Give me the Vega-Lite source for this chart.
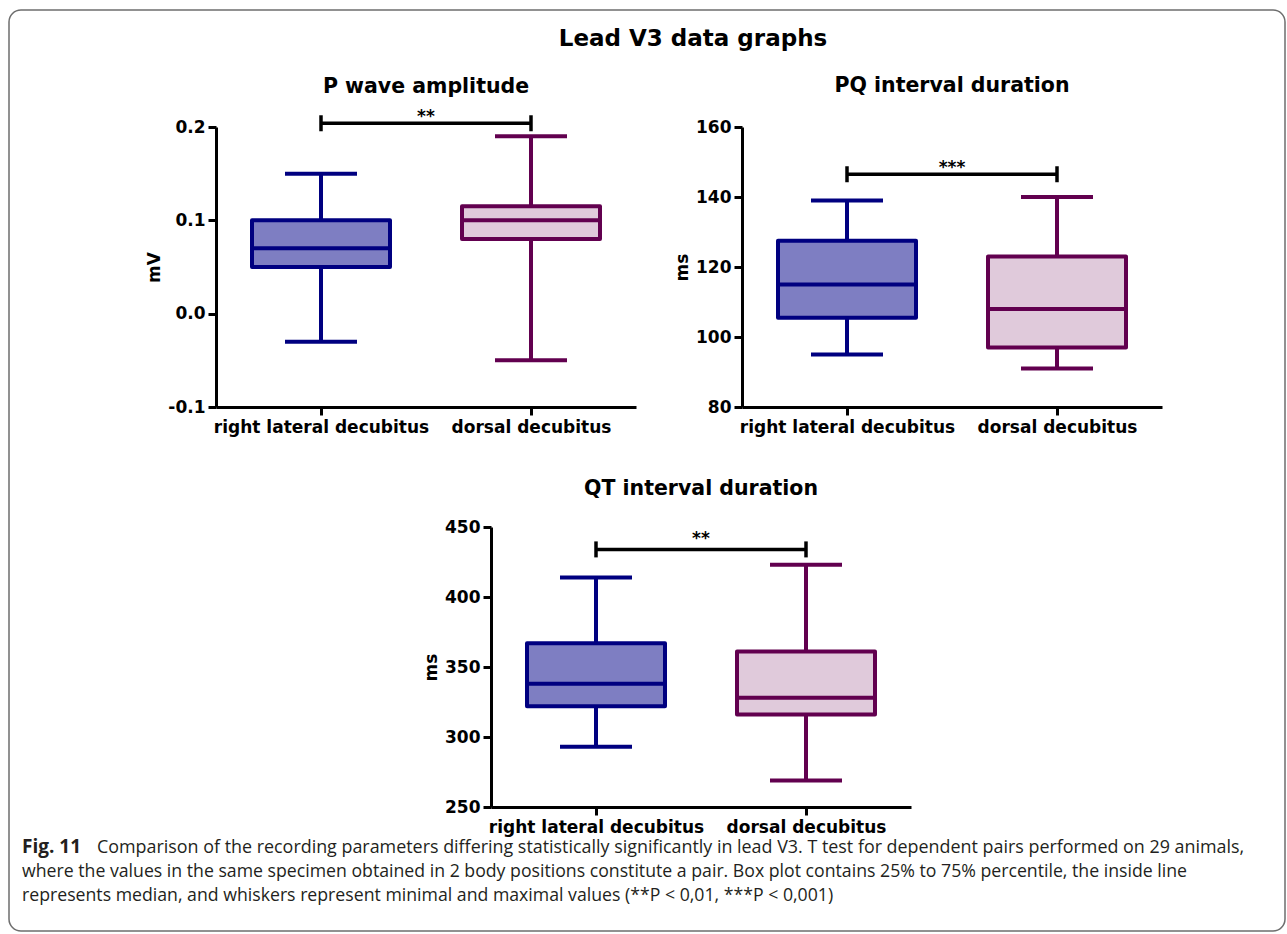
{
  "$schema": "https://vega.github.io/schema/vega-lite/v6.json",
  "background": "white",
  "padding": {"left": 8, "top": 9, "right": 0, "bottom": 0},
  "title": {"text": "Lead V3 data graphs", "fontSize": 23, "offset": -42, "dx": 46},
  "bounds": "flush",
  "spacing": 400,
  "config": {
    "view": {"stroke": null},
    "axis": {
      "grid": false,
      "domainColor": "black", "domainWidth": 3,
      "tickColor": "black", "tickWidth": 3, "tickSize": 8,
      "labelFont": "DejaVu Sans", "labelFontWeight": "bold", "labelFontSize": 17, "labelColor": "black", "labelPadding": 3, "labelLimit": 0,
      "titleFont": "DejaVu Sans", "titleFontWeight": "bold", "titleFontSize": 17, "titleColor": "black", "titlePadding": 4
    },
    "axisX": {"labelAngle": 0, "labelPadding": 4, "title": null},
    "tick": {"opacity": 1},
    "title": {"font": "DejaVu Sans", "fontWeight": "bold", "fontSize": 20.5, "color": "black", "anchor": "middle", "baseline": "alphabetic"}
  },
  "vconcat": [
    {
      "bounds": "flush",
      "spacing": 106,
      "hconcat": [
        {
          "width": 101,
          "height": 280,
          "layer": [
            {
              "data": {"values": [{"frame": "figure border"}]},
              "mark": {"type": "rect", "fill": null, "stroke": "#6e6e6e", "strokeWidth": 1.5, "cornerRadius": 12, "clip": false},
              "encoding": {
                "x": {"value": 0},
                "x2": {"value": 1276},
                "y": {"value": -117},
                "y2": {"value": 804}
              }
            },
            {
              "data": {"values": [{"line": 1, "text": "Fig. 11"}]},
              "mark": {"type": "text", "font": "Open Sans", "fontWeight": "bold", "fontSize": 19, "align": "left", "baseline": "alphabetic", "color": "#231f20"},
              "encoding": {
                "x": {"value": 13},
                "y": {"field": "line", "type": "quantitative", "scale": {"domain": [1, 3], "range": [726, 774]}, "axis": null},
                "text": {"field": "text"}
              }
            },
            {
              "data": {"values": [{"line": 1, "text": "Comparison of the recording parameters differing statistically significantly in lead V3. T test for dependent pairs performed on 29 animals,"}]},
              "mark": {"type": "text", "font": "Open Sans", "fontSize": 17.9, "align": "left", "baseline": "alphabetic", "color": "#231f20", "dx": 75},
              "encoding": {
                "x": {"value": 13},
                "y": {"field": "line", "type": "quantitative", "scale": {"domain": [1, 3], "range": [726, 774]}, "axis": null},
                "text": {"field": "text"}
              }
            },
            {
              "data": {"values": [
                {"line": 2, "text": "where the values in the same specimen obtained in 2 body positions constitute a pair. Box plot contains 25% to 75% percentile, the inside line"},
                {"line": 3, "text": "represents median, and whiskers represent minimal and maximal values (**P < 0,01, ***P < 0,001)"}
              ]},
              "mark": {"type": "text", "font": "Open Sans", "fontSize": 17.7, "align": "left", "baseline": "alphabetic", "color": "#231f20"},
              "encoding": {
                "x": {"value": 13},
                "y": {"field": "line", "type": "quantitative", "scale": {"domain": [1, 3], "range": [726, 774]}, "axis": null},
                "text": {"field": "text"}
              }
            }
          ]
        },
        {
          "width": 420, "height": 280,
          "title": {"text": "P wave amplitude", "offset": 11},
          "data": {"values": [
            {"position": "right lateral decubitus", "min": -0.03, "q1": 0.05, "median": 0.07, "q3": 0.10, "max": 0.15},
            {"position": "dorsal decubitus", "min": -0.05, "q1": 0.08, "median": 0.10, "q3": 0.115, "max": 0.19}
          ]},
          "layer": [
            {
              "mark": {"type": "rule", "strokeWidth": 4},
              "encoding": {
                "x": {"field": "position", "type": "nominal", "scale": {"type": "point", "padding": 0.5, "domain": ["right lateral decubitus", "dorsal decubitus"]}, "axis": {"title": null}},
                "y": {"field": "min", "type": "quantitative", "scale": {"domain": [-0.1, 0.2], "nice": false, "zero": false}, "axis": {"title": "mV", "values": [-0.1, 0, 0.1, 0.2], "format": ".1f", "labelExpr": "replace(datum.label, '−', '-')"}},
                "y2": {"field": "max"},
                "color": {"field": "position", "type": "nominal", "scale": {"domain": ["right lateral decubitus", "dorsal decubitus"], "range": ["#000080", "#62004f"]}, "legend": null}
              }
            },
            {
              "mark": {"type": "bar", "size": 138, "strokeWidth": 4, "strokeJoin": "round"},
              "encoding": {
                "x": {"field": "position", "type": "nominal", "scale": {"type": "point", "padding": 0.5, "domain": ["right lateral decubitus", "dorsal decubitus"]}, "axis": {"title": null}},
                "y": {"field": "q1", "type": "quantitative", "scale": {"domain": [-0.1, 0.2], "nice": false, "zero": false}, "axis": {"title": "mV", "values": [-0.1, 0, 0.1, 0.2], "format": ".1f", "labelExpr": "replace(datum.label, '−', '-')"}},
                "y2": {"field": "q3"},
                "fill": {"field": "position", "type": "nominal", "scale": {"domain": ["right lateral decubitus", "dorsal decubitus"], "range": ["#7e7ec2", "#e0cadb"]}, "legend": null},
                "stroke": {"field": "position", "type": "nominal", "scale": {"domain": ["right lateral decubitus", "dorsal decubitus"], "range": ["#000080", "#62004f"]}, "legend": null}
              }
            },
            {
              "mark": {"type": "tick", "size": 140, "thickness": 4},
              "encoding": {
                "x": {"field": "position", "type": "nominal", "scale": {"type": "point", "padding": 0.5, "domain": ["right lateral decubitus", "dorsal decubitus"]}, "axis": {"title": null}},
                "y": {"field": "median", "type": "quantitative", "scale": {"domain": [-0.1, 0.2], "nice": false, "zero": false}, "axis": {"title": "mV", "values": [-0.1, 0, 0.1, 0.2], "format": ".1f", "labelExpr": "replace(datum.label, '−', '-')"}},
                "color": {"field": "position", "type": "nominal", "scale": {"domain": ["right lateral decubitus", "dorsal decubitus"], "range": ["#000080", "#62004f"]}, "legend": null}
              }
            },
            {
              "mark": {"type": "tick", "size": 72, "thickness": 4},
              "encoding": {
                "x": {"field": "position", "type": "nominal", "scale": {"type": "point", "padding": 0.5, "domain": ["right lateral decubitus", "dorsal decubitus"]}, "axis": {"title": null}},
                "y": {"field": "min", "type": "quantitative", "scale": {"domain": [-0.1, 0.2], "nice": false, "zero": false}, "axis": {"title": "mV", "values": [-0.1, 0, 0.1, 0.2], "format": ".1f", "labelExpr": "replace(datum.label, '−', '-')"}},
                "color": {"field": "position", "type": "nominal", "scale": {"domain": ["right lateral decubitus", "dorsal decubitus"], "range": ["#000080", "#62004f"]}, "legend": null}
              }
            },
            {
              "mark": {"type": "tick", "size": 72, "thickness": 4},
              "encoding": {
                "x": {"field": "position", "type": "nominal", "scale": {"type": "point", "padding": 0.5, "domain": ["right lateral decubitus", "dorsal decubitus"]}, "axis": {"title": null}},
                "y": {"field": "max", "type": "quantitative", "scale": {"domain": [-0.1, 0.2], "nice": false, "zero": false}, "axis": {"title": "mV", "values": [-0.1, 0, 0.1, 0.2], "format": ".1f", "labelExpr": "replace(datum.label, '−', '-')"}},
                "color": {"field": "position", "type": "nominal", "scale": {"domain": ["right lateral decubitus", "dorsal decubitus"], "range": ["#000080", "#62004f"]}, "legend": null}
              }
            },
            {
              "data": {"values": [{"from": "right lateral decubitus", "to": "dorsal decubitus", "y": 0.204, "label": "**"}]},
              "layer": [
                {
                  "mark": {"type": "rule", "strokeWidth": 3.5, "color": "black"},
                  "encoding": {
                    "x": {"field": "from", "type": "nominal", "scale": {"type": "point", "padding": 0.5, "domain": ["right lateral decubitus", "dorsal decubitus"]}, "axis": {"title": null}},
                    "x2": {"field": "to"},
                    "y": {"field": "y", "type": "quantitative", "scale": {"domain": [-0.1, 0.2], "nice": false, "zero": false}, "axis": {"title": "mV", "values": [-0.1, 0, 0.1, 0.2], "format": ".1f", "labelExpr": "replace(datum.label, '−', '-')"}}
                  }
                },
                {
                  "mark": {"type": "tick", "orient": "vertical", "size": 16, "thickness": 3.5, "color": "black"},
                  "encoding": {
                    "x": {"field": "from", "type": "nominal", "scale": {"type": "point", "padding": 0.5, "domain": ["right lateral decubitus", "dorsal decubitus"]}, "axis": {"title": null}},
                    "y": {"field": "y", "type": "quantitative", "scale": {"domain": [-0.1, 0.2], "nice": false, "zero": false}, "axis": {"title": "mV", "values": [-0.1, 0, 0.1, 0.2], "format": ".1f", "labelExpr": "replace(datum.label, '−', '-')"}}
                  }
                },
                {
                  "mark": {"type": "tick", "orient": "vertical", "size": 16, "thickness": 3.5, "color": "black"},
                  "encoding": {
                    "x": {"field": "to", "type": "nominal", "scale": {"type": "point", "padding": 0.5, "domain": ["right lateral decubitus", "dorsal decubitus"]}, "axis": {"title": null}},
                    "y": {"field": "y", "type": "quantitative", "scale": {"domain": [-0.1, 0.2], "nice": false, "zero": false}, "axis": {"title": "mV", "values": [-0.1, 0, 0.1, 0.2], "format": ".1f", "labelExpr": "replace(datum.label, '−', '-')"}}
                  }
                },
                {
                  "mark": {"type": "text", "font": "DejaVu Sans", "fontWeight": "bold", "fontSize": 17, "baseline": "alphabetic", "color": "black", "dy": -1},
                  "encoding": {
                    "y": {"field": "y", "type": "quantitative", "scale": {"domain": [-0.1, 0.2], "nice": false, "zero": false}, "axis": {"title": "mV", "values": [-0.1, 0, 0.1, 0.2], "format": ".1f", "labelExpr": "replace(datum.label, '−', '-')"}},
                    "text": {"field": "label"}
                  }
                }
              ]
            }
          ]
        },
        {
          "width": 420, "height": 280,
          "title": {"text": "PQ interval duration", "offset": 22},
          "data": {"values": [
            {"position": "right lateral decubitus", "min": 95, "q1": 105.5, "median": 115, "q3": 127.5, "max": 139},
            {"position": "dorsal decubitus", "min": 91, "q1": 97, "median": 108, "q3": 123, "max": 140}
          ]},
          "layer": [
            {
              "mark": {"type": "rule", "strokeWidth": 4},
              "encoding": {
                "x": {"field": "position", "type": "nominal", "scale": {"type": "point", "padding": 0.5, "domain": ["right lateral decubitus", "dorsal decubitus"]}, "axis": {"title": null}},
                "y": {"field": "min", "type": "quantitative", "scale": {"domain": [80, 160], "nice": false, "zero": false}, "axis": {"title": "ms", "values": [80, 100, 120, 140, 160]}},
                "y2": {"field": "max"},
                "color": {"field": "position", "type": "nominal", "scale": {"domain": ["right lateral decubitus", "dorsal decubitus"], "range": ["#000080", "#62004f"]}, "legend": null}
              }
            },
            {
              "mark": {"type": "bar", "size": 138, "strokeWidth": 4, "strokeJoin": "round"},
              "encoding": {
                "x": {"field": "position", "type": "nominal", "scale": {"type": "point", "padding": 0.5, "domain": ["right lateral decubitus", "dorsal decubitus"]}, "axis": {"title": null}},
                "y": {"field": "q1", "type": "quantitative", "scale": {"domain": [80, 160], "nice": false, "zero": false}, "axis": {"title": "ms", "values": [80, 100, 120, 140, 160]}},
                "y2": {"field": "q3"},
                "fill": {"field": "position", "type": "nominal", "scale": {"domain": ["right lateral decubitus", "dorsal decubitus"], "range": ["#7e7ec2", "#e0cadb"]}, "legend": null},
                "stroke": {"field": "position", "type": "nominal", "scale": {"domain": ["right lateral decubitus", "dorsal decubitus"], "range": ["#000080", "#62004f"]}, "legend": null}
              }
            },
            {
              "mark": {"type": "tick", "size": 140, "thickness": 4},
              "encoding": {
                "x": {"field": "position", "type": "nominal", "scale": {"type": "point", "padding": 0.5, "domain": ["right lateral decubitus", "dorsal decubitus"]}, "axis": {"title": null}},
                "y": {"field": "median", "type": "quantitative", "scale": {"domain": [80, 160], "nice": false, "zero": false}, "axis": {"title": "ms", "values": [80, 100, 120, 140, 160]}},
                "color": {"field": "position", "type": "nominal", "scale": {"domain": ["right lateral decubitus", "dorsal decubitus"], "range": ["#000080", "#62004f"]}, "legend": null}
              }
            },
            {
              "mark": {"type": "tick", "size": 72, "thickness": 4},
              "encoding": {
                "x": {"field": "position", "type": "nominal", "scale": {"type": "point", "padding": 0.5, "domain": ["right lateral decubitus", "dorsal decubitus"]}, "axis": {"title": null}},
                "y": {"field": "min", "type": "quantitative", "scale": {"domain": [80, 160], "nice": false, "zero": false}, "axis": {"title": "ms", "values": [80, 100, 120, 140, 160]}},
                "color": {"field": "position", "type": "nominal", "scale": {"domain": ["right lateral decubitus", "dorsal decubitus"], "range": ["#000080", "#62004f"]}, "legend": null}
              }
            },
            {
              "mark": {"type": "tick", "size": 72, "thickness": 4},
              "encoding": {
                "x": {"field": "position", "type": "nominal", "scale": {"type": "point", "padding": 0.5, "domain": ["right lateral decubitus", "dorsal decubitus"]}, "axis": {"title": null}},
                "y": {"field": "max", "type": "quantitative", "scale": {"domain": [80, 160], "nice": false, "zero": false}, "axis": {"title": "ms", "values": [80, 100, 120, 140, 160]}},
                "color": {"field": "position", "type": "nominal", "scale": {"domain": ["right lateral decubitus", "dorsal decubitus"], "range": ["#000080", "#62004f"]}, "legend": null}
              }
            },
            {
              "data": {"values": [{"from": "right lateral decubitus", "to": "dorsal decubitus", "y": 146.5, "label": "***"}]},
              "layer": [
                {
                  "mark": {"type": "rule", "strokeWidth": 3.5, "color": "black"},
                  "encoding": {
                    "x": {"field": "from", "type": "nominal", "scale": {"type": "point", "padding": 0.5, "domain": ["right lateral decubitus", "dorsal decubitus"]}, "axis": {"title": null}},
                    "x2": {"field": "to"},
                    "y": {"field": "y", "type": "quantitative", "scale": {"domain": [80, 160], "nice": false, "zero": false}, "axis": {"title": "ms", "values": [80, 100, 120, 140, 160]}}
                  }
                },
                {
                  "mark": {"type": "tick", "orient": "vertical", "size": 16, "thickness": 3.5, "color": "black"},
                  "encoding": {
                    "x": {"field": "from", "type": "nominal", "scale": {"type": "point", "padding": 0.5, "domain": ["right lateral decubitus", "dorsal decubitus"]}, "axis": {"title": null}},
                    "y": {"field": "y", "type": "quantitative", "scale": {"domain": [80, 160], "nice": false, "zero": false}, "axis": {"title": "ms", "values": [80, 100, 120, 140, 160]}}
                  }
                },
                {
                  "mark": {"type": "tick", "orient": "vertical", "size": 16, "thickness": 3.5, "color": "black"},
                  "encoding": {
                    "x": {"field": "to", "type": "nominal", "scale": {"type": "point", "padding": 0.5, "domain": ["right lateral decubitus", "dorsal decubitus"]}, "axis": {"title": null}},
                    "y": {"field": "y", "type": "quantitative", "scale": {"domain": [80, 160], "nice": false, "zero": false}, "axis": {"title": "ms", "values": [80, 100, 120, 140, 160]}}
                  }
                },
                {
                  "mark": {"type": "text", "font": "DejaVu Sans", "fontWeight": "bold", "fontSize": 17, "baseline": "alphabetic", "color": "black", "dy": -1},
                  "encoding": {
                    "y": {"field": "y", "type": "quantitative", "scale": {"domain": [80, 160], "nice": false, "zero": false}, "axis": {"title": "ms", "values": [80, 100, 120, 140, 160]}},
                    "text": {"field": "label"}
                  }
                }
              ]
            }
          ]
        }
      ]
    },
    {
      "bounds": "flush",
      "spacing": 106,
      "hconcat": [
        {"width": 376, "height": 280, "data": {"values": []}, "mark": "point"},
        {
          "width": 420, "height": 280,
          "title": {"text": "QT interval duration", "offset": 19},
          "data": {"values": [
            {"position": "right lateral decubitus", "min": 293, "q1": 322, "median": 338, "q3": 367, "max": 414},
            {"position": "dorsal decubitus", "min": 269, "q1": 316, "median": 328, "q3": 361, "max": 423}
          ]},
          "layer": [
            {
              "mark": {"type": "rule", "strokeWidth": 4},
              "encoding": {
                "x": {"field": "position", "type": "nominal", "scale": {"type": "point", "padding": 0.5, "domain": ["right lateral decubitus", "dorsal decubitus"]}, "axis": {"title": null}},
                "y": {"field": "min", "type": "quantitative", "scale": {"domain": [250, 450], "nice": false, "zero": false}, "axis": {"title": "ms", "values": [250, 300, 350, 400, 450]}},
                "y2": {"field": "max"},
                "color": {"field": "position", "type": "nominal", "scale": {"domain": ["right lateral decubitus", "dorsal decubitus"], "range": ["#000080", "#62004f"]}, "legend": null}
              }
            },
            {
              "mark": {"type": "bar", "size": 138, "strokeWidth": 4, "strokeJoin": "round"},
              "encoding": {
                "x": {"field": "position", "type": "nominal", "scale": {"type": "point", "padding": 0.5, "domain": ["right lateral decubitus", "dorsal decubitus"]}, "axis": {"title": null}},
                "y": {"field": "q1", "type": "quantitative", "scale": {"domain": [250, 450], "nice": false, "zero": false}, "axis": {"title": "ms", "values": [250, 300, 350, 400, 450]}},
                "y2": {"field": "q3"},
                "fill": {"field": "position", "type": "nominal", "scale": {"domain": ["right lateral decubitus", "dorsal decubitus"], "range": ["#7e7ec2", "#e0cadb"]}, "legend": null},
                "stroke": {"field": "position", "type": "nominal", "scale": {"domain": ["right lateral decubitus", "dorsal decubitus"], "range": ["#000080", "#62004f"]}, "legend": null}
              }
            },
            {
              "mark": {"type": "tick", "size": 140, "thickness": 4},
              "encoding": {
                "x": {"field": "position", "type": "nominal", "scale": {"type": "point", "padding": 0.5, "domain": ["right lateral decubitus", "dorsal decubitus"]}, "axis": {"title": null}},
                "y": {"field": "median", "type": "quantitative", "scale": {"domain": [250, 450], "nice": false, "zero": false}, "axis": {"title": "ms", "values": [250, 300, 350, 400, 450]}},
                "color": {"field": "position", "type": "nominal", "scale": {"domain": ["right lateral decubitus", "dorsal decubitus"], "range": ["#000080", "#62004f"]}, "legend": null}
              }
            },
            {
              "mark": {"type": "tick", "size": 72, "thickness": 4},
              "encoding": {
                "x": {"field": "position", "type": "nominal", "scale": {"type": "point", "padding": 0.5, "domain": ["right lateral decubitus", "dorsal decubitus"]}, "axis": {"title": null}},
                "y": {"field": "min", "type": "quantitative", "scale": {"domain": [250, 450], "nice": false, "zero": false}, "axis": {"title": "ms", "values": [250, 300, 350, 400, 450]}},
                "color": {"field": "position", "type": "nominal", "scale": {"domain": ["right lateral decubitus", "dorsal decubitus"], "range": ["#000080", "#62004f"]}, "legend": null}
              }
            },
            {
              "mark": {"type": "tick", "size": 72, "thickness": 4},
              "encoding": {
                "x": {"field": "position", "type": "nominal", "scale": {"type": "point", "padding": 0.5, "domain": ["right lateral decubitus", "dorsal decubitus"]}, "axis": {"title": null}},
                "y": {"field": "max", "type": "quantitative", "scale": {"domain": [250, 450], "nice": false, "zero": false}, "axis": {"title": "ms", "values": [250, 300, 350, 400, 450]}},
                "color": {"field": "position", "type": "nominal", "scale": {"domain": ["right lateral decubitus", "dorsal decubitus"], "range": ["#000080", "#62004f"]}, "legend": null}
              }
            },
            {
              "data": {"values": [{"from": "right lateral decubitus", "to": "dorsal decubitus", "y": 434, "label": "**"}]},
              "layer": [
                {
                  "mark": {"type": "rule", "strokeWidth": 3.5, "color": "black"},
                  "encoding": {
                    "x": {"field": "from", "type": "nominal", "scale": {"type": "point", "padding": 0.5, "domain": ["right lateral decubitus", "dorsal decubitus"]}, "axis": {"title": null}},
                    "x2": {"field": "to"},
                    "y": {"field": "y", "type": "quantitative", "scale": {"domain": [250, 450], "nice": false, "zero": false}, "axis": {"title": "ms", "values": [250, 300, 350, 400, 450]}}
                  }
                },
                {
                  "mark": {"type": "tick", "orient": "vertical", "size": 16, "thickness": 3.5, "color": "black"},
                  "encoding": {
                    "x": {"field": "from", "type": "nominal", "scale": {"type": "point", "padding": 0.5, "domain": ["right lateral decubitus", "dorsal decubitus"]}, "axis": {"title": null}},
                    "y": {"field": "y", "type": "quantitative", "scale": {"domain": [250, 450], "nice": false, "zero": false}, "axis": {"title": "ms", "values": [250, 300, 350, 400, 450]}}
                  }
                },
                {
                  "mark": {"type": "tick", "orient": "vertical", "size": 16, "thickness": 3.5, "color": "black"},
                  "encoding": {
                    "x": {"field": "to", "type": "nominal", "scale": {"type": "point", "padding": 0.5, "domain": ["right lateral decubitus", "dorsal decubitus"]}, "axis": {"title": null}},
                    "y": {"field": "y", "type": "quantitative", "scale": {"domain": [250, 450], "nice": false, "zero": false}, "axis": {"title": "ms", "values": [250, 300, 350, 400, 450]}}
                  }
                },
                {
                  "mark": {"type": "text", "font": "DejaVu Sans", "fontWeight": "bold", "fontSize": 17, "baseline": "alphabetic", "color": "black", "dy": -5},
                  "encoding": {
                    "y": {"field": "y", "type": "quantitative", "scale": {"domain": [250, 450], "nice": false, "zero": false}, "axis": {"title": "ms", "values": [250, 300, 350, 400, 450]}},
                    "text": {"field": "label"}
                  }
                }
              ]
            }
          ]
        }
      ]
    }
  ]
}
